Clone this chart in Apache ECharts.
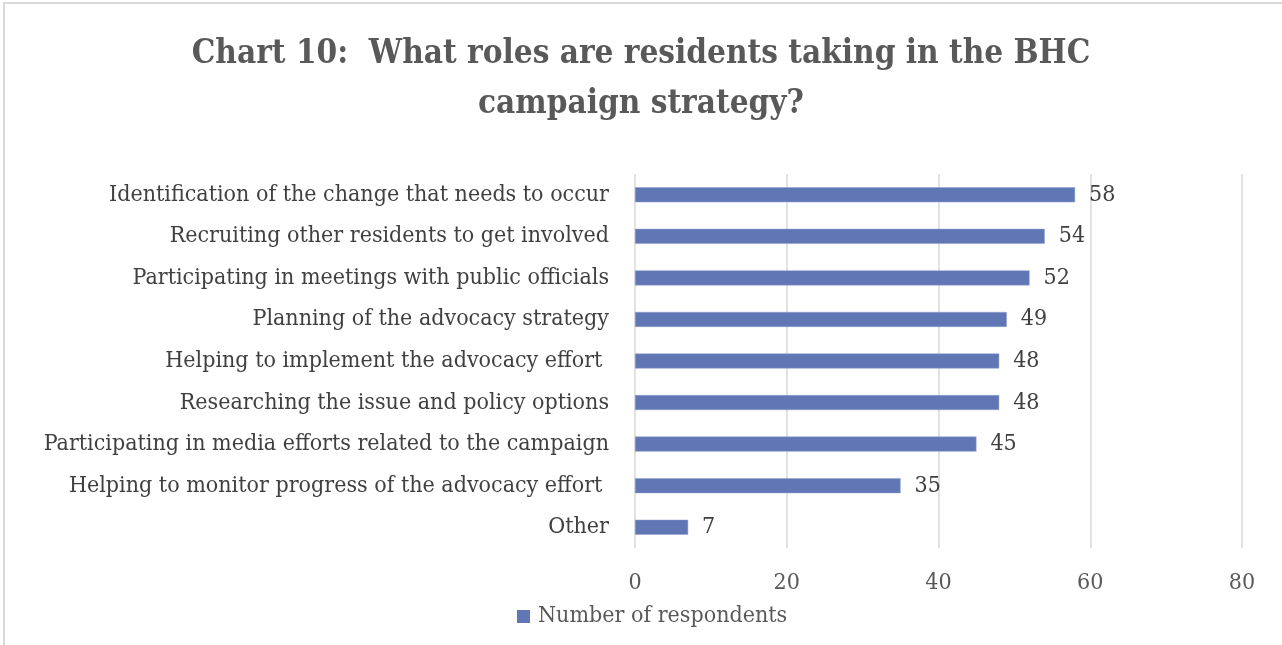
<!DOCTYPE html>
<html>
<head>
<meta charset="utf-8">
<title>Chart 10</title>
<script src="https://cdn.jsdelivr.net/npm/echarts@6/dist/echarts.min.js"></script>
<style>
  html, body { margin: 0; padding: 0; background: #ffffff; }
  #chart { width: 1282px; height: 645px; }
</style>
</head>
<body>
<div id="chart"></div>
<script>
// Survey roles, listed top to bottom
const categories = [
  'Identification of the change that needs to occur',
  'Recruiting other residents to get involved',
  'Participating in meetings with public officials',
  'Planning of the advocacy strategy',
  'Helping to implement the advocacy effort ',
  'Researching the issue and policy options',
  'Participating in media efforts related to the campaign',
  'Helping to monitor progress of the advocacy effort ',
  'Other'
];
const respondents = [58, 54, 52, 49, 48, 48, 45, 35, 7];
const xTicks = { min: 0, max: 80, interval: 20 };
const seriesName = 'Number of respondents';

const serif = '"Palatino Linotype", "Book Antiqua", Palatino, "DejaVu Serif Condensed", "Liberation Serif", serif';
const barColor = '#6076b5';

const chart = echarts.init(document.getElementById('chart'), null, { renderer: 'canvas' });
chart.setOption({
  backgroundColor: '#ffffff',
  animation: false,
  title: {
    text: 'Chart 10:  What roles are residents taking in the BHC\ncampaign strategy?',
    left: 'center',
    top: 24,
    textStyle: {
      fontFamily: serif,
      fontWeight: 'bold',
      fontSize: 33,
      lineHeight: 50,
      color: '#595959'
    }
  },
  graphic: [{
    type: 'rect',
    shape: { x: 4, y: 3, width: 1400, height: 800 },
    style: { fill: 'none', stroke: '#d9d9d9', lineWidth: 2 },
    silent: true
  }],
  legend: {
    data: [seriesName],
    left: 512,
    top: 600,
    icon: 'rect',
    itemWidth: 13,
    itemHeight: 13,
    itemStyle: { borderWidth: 0 },
    textStyle: { fontFamily: serif, fontSize: 23, color: '#595959', padding: [0, 0, 0, 3] }
  },
  grid: { left: 635, right: 40, top: 174, bottom: 97, containLabel: false },
  xAxis: {
    type: 'value',
    min: xTicks.min,
    max: xTicks.max,
    interval: xTicks.interval,
    axisLine: { show: false },
    axisTick: { show: false },
    splitLine: { lineStyle: { color: '#d9d9d9', width: 1.5 } },
    axisLabel: { margin: 24, fontFamily: serif, fontSize: 23, color: '#595959' }
  },
  yAxis: {
    type: 'category',
    data: categories,
    inverse: true,
    axisLine: { show: false },
    axisTick: { show: false },
    axisLabel: { margin: 26, fontFamily: serif, fontSize: 23, color: '#404040' }
  },
  series: [{
    name: seriesName,
    type: 'bar',
    data: respondents,
    barWidth: 15,
    itemStyle: { color: barColor, borderColor: '#8fa0cf', borderWidth: 0.5 },
    label: {
      show: true,
      position: 'right',
      distance: 14,
      fontFamily: serif,
      fontSize: 23,
      color: '#404040'
    }
  }]
});
</script>
</body>
</html>
